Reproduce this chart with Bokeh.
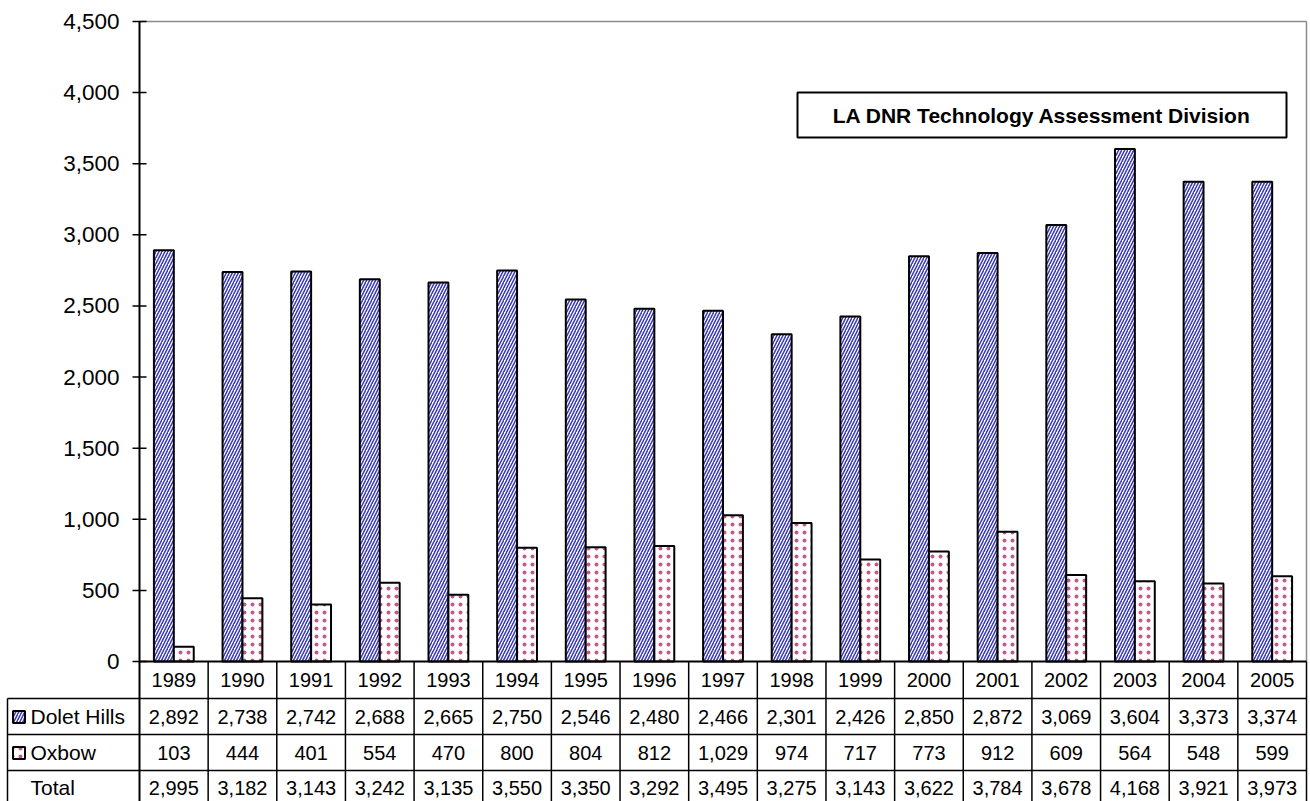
import numpy as np
from bokeh.plotting import figure
from bokeh.models import Range1d, BoxAnnotation, Label, ColumnDataSource
from bokeh.core.properties import value
from bokeh.embed import file_html
from bokeh.resources import INLINE

years = ["1989", "1990", "1991", "1992", "1993", "1994", "1995", "1996", "1997",
         "1998", "1999", "2000", "2001", "2002", "2003", "2004", "2005"]
dolet_hills = [2892, 2738, 2742, 2688, 2665, 2750, 2546, 2480, 2466, 2301, 2426,
               2850, 2872, 3069, 3604, 3373, 3374]
oxbow = [103, 444, 401, 554, 470, 800, 804, 812, 1029, 974, 717, 773, 912, 609,
         564, 548, 599]
total = [2995, 3182, 3143, 3242, 3135, 3550, 3350, 3292, 3495, 3275, 3143, 3622,
         3784, 3678, 4168, 3921, 3973]
row_labels = ["Dolet Hills", "Oxbow", "Total"]
y_ticks = [0, 500, 1000, 1500, 2000, 2500, 3000, 3500, 4000, 4500]
title_text = "LA DNR Technology Assessment Division"

FONT = "Liberation Sans"
BLUE = "#3a3aa8"
PINK = "#c05a8c"
GRAY = "#8a8a8a"

n = len(years)
W, H = 1310, 801
left_px, right_px = 139, 1306
top_px, zero_px = 21, 661
s = (right_px - left_px) / n          # px per category
y_hi = y_ticks[-1]
ppu = (zero_px - top_px) / y_hi       # px per unit

def xd(px):
    return (px - left_px) / s

def yd(py):
    return (zero_px - py) / ppu

p = figure(width=W, height=H, x_range=Range1d(xd(0), xd(W)), y_range=Range1d(yd(H), yd(0)),
           x_axis_type=None, y_axis_type=None, toolbar_location=None, output_backend="svg",
           min_border=0, min_border_left=0, min_border_right=0, min_border_top=0,
           min_border_bottom=0)
p.xgrid.visible = False
p.ygrid.visible = False
p.outline_line_color = None
p.background_fill_color = "white"
p.border_fill_color = "white"

# plot-area border (top and right, grey)
p.segment(x0=[0, n], y0=[y_hi, y_hi], x1=[n, n], y1=[y_hi, 0], line_color=GRAY, line_width=1.5)

# ---------------- bars ----------------
xc = np.arange(n) + 0.5
src = ColumnDataSource(dict(xd=xc - 0.145, xo=xc + 0.145, dolet=dolet_hills, ox=oxbow))
p.vbar(x="xd", top="dolet", bottom=0, width=0.29, source=src, fill_color="white",
       line_color="black", line_width=2, hatch_pattern="/", hatch_color=BLUE,
       hatch_scale=6, hatch_weight=1.5)
p.vbar(x="xo", top="ox", bottom=0, width=0.29, source=src, fill_color="white",
       line_color="black", line_width=2, hatch_pattern=".", hatch_color=PINK,
       hatch_scale=8, hatch_weight=2)

# ---------------- value axis ----------------
p.segment(x0=[0], y0=[y_hi], x1=[0], y1=[yd(H)], line_color="black", line_width=2)
p.segment(x0=[xd(132)] * len(y_ticks), y0=y_ticks, x1=[xd(146)] * len(y_ticks), y1=y_ticks,
          line_color="black", line_width=1.5)
p.text(x=[xd(119)] * len(y_ticks), y=y_ticks, text=[f"{v:,}" for v in y_ticks],
       text_align="right", text_baseline="middle", text_font=value(FONT),
       text_font_size=value("22.5px"), text_color="black")
p.segment(x0=[0], y0=[0], x1=[n], y1=[0], line_color="black", line_width=2)

# title box
p.add_layout(BoxAnnotation(left=xd(797), right=xd(1286), top=yd(92), bottom=yd(137),
                           fill_color="white", fill_alpha=1, line_color="black",
                           line_alpha=1, line_width=2))
p.add_layout(Label(x=xd((797 + 1286) / 2), y=yd(114.5), text=title_text,
                   text_align="center", text_baseline="middle", text_font=FONT,
                   text_font_style="bold", text_font_size="21px", text_color="black"))

# ---------------- data table ----------------
row_edges = [661, 698, 734, 770, 806]
bottom_y = yd(H)
ks = list(range(n + 1))
p.segment(x0=ks[1:], y0=[0] * n, x1=ks[1:], y1=[bottom_y] * n,
          line_color="black", line_width=1.5)
hl = [yd(v) for v in row_edges[1:4]]
lx = xd(7)
p.segment(x0=[lx] * 3, y0=hl, x1=[n] * 3, y1=hl, line_color="black", line_width=1.5)
p.segment(x0=[lx], y0=[hl[0]], x1=[lx], y1=[bottom_y], line_color="black", line_width=1.5)

text_kw = dict(text_font=value(FONT), text_font_size=value("20px"), text_color="black",
               text_baseline="middle")
rows = [years, [f"{v:,}" for v in dolet_hills], [f"{v:,}" for v in oxbow],
        [f"{v:,}" for v in total]]
row_cy = [679.5, 716, 752, 787]
for r, vals in enumerate(rows):
    p.text(x=xc, y=[yd(row_cy[r])] * n, text=vals, text_align="center", **text_kw)

p.text(x=[xd(30)] * 3, y=[yd(c) for c in row_cy[1:]], text=row_labels,
       text_align="left", text_font=value(FONT), text_font_size=value("21px"),
       text_color="black", text_baseline="middle")

# legend swatches
sw = 12
p.rect(x=[xd(18.5)], y=[yd(716.5)], width=sw / s, height=sw / ppu, fill_color="white",
       line_color="black", line_width=2, hatch_pattern="/", hatch_color=BLUE,
       hatch_scale=6, hatch_weight=1.5)
p.rect(x=[xd(18.5)], y=[yd(752.5)], width=sw / s, height=sw / ppu, fill_color="white",
       line_color="black", line_width=2, hatch_pattern=".", hatch_color=PINK,
       hatch_scale=8, hatch_weight=2)

open("out.html", "w").write(file_html(p, INLINE))
